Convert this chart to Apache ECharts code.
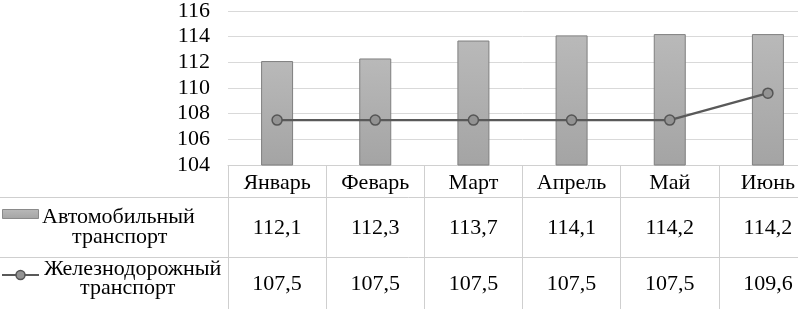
<!DOCTYPE html>
<html>
<head>
<meta charset="utf-8">
<script src="https://cdn.jsdelivr.net/npm/echarts@6/dist/echarts.min.js"></script>
</head>
<body style="margin:0;overflow:hidden">
<div id="c" style="width:817px;height:309px"></div>
<script>
var months = ['Январь', 'Феварь', 'Март', 'Апрель', 'Май', 'Июнь'];
var autoValues = [112.1, 112.3, 113.7, 114.1, 114.2, 114.2];
var railValues = [107.5, 107.5, 107.5, 107.5, 107.5, 109.6];
var autoName = ['Автомобильный', 'транспорт'];
var railName = ['Железнодорожный', 'транспорт'];
var yMin = 104, yMax = 116, yStep = 2;

function fmt(v) { return v.toFixed(1).replace('.', ','); }

var FONT = 'Liberation Serif';
var FS = 22;
var chart = echarts.init(document.getElementById('c'));

var barGrad = new echarts.graphic.LinearGradient(0, 0, 0, 1, [
  {offset: 0, color: '#b9b9b9'}, {offset: 1, color: '#a4a4a4'}
]);

var richT = {t: {fontFamily: FONT, fontSize: FS, color: '#000'}};
function richFmt(v) { return '{t|' + v + '}'; }

function valueAxis(data, margin) {
  return {
    type: 'category', gridIndex: 0, position: 'bottom', data: data.map(fmt),
    axisLine: {show: false}, axisTick: {show: false}, splitLine: {show: false},
    axisLabel: {interval: 0, margin: margin, color: '#000', fontFamily: FONT, fontSize: FS,
      formatter: richFmt, rich: richT}
  };
}

function txt(x, y, s) {
  return {type: 'text', x: x, y: y,
    style: {text: s, fontFamily: FONT, fontSize: FS, fill: '#000'}};
}

chart.setOption({
  animation: false,
  textStyle: {fontFamily: FONT, fontSize: FS},
  grid: {left: 228, right: 0, top: 6, bottom: 144},
  xAxis: [
    {
      type: 'category', data: months, boundaryGap: true,
      axisLine: {show: true, lineStyle: {color: '#d0d0d0', width: 1}},
      axisTick: {show: true, interval: 0, length: 144, lineStyle: {color: '#cfcfcf', width: 1}},
      axisLabel: {interval: 0, margin: 7, color: '#000', fontFamily: FONT, fontSize: FS,
        formatter: richFmt, rich: richT}
    },
    valueAxis(autoValues, 52),
    valueAxis(railValues, 108)
  ],
  yAxis: {
    type: 'value', min: yMin, max: yMax, interval: yStep,
    axisLine: {show: false}, axisTick: {show: false},
    splitLine: {lineStyle: {color: '#d9d9d9', width: 1}},
    axisLabel: {margin: 18, color: '#000', fontFamily: FONT, fontSize: FS,
      formatter: richFmt, rich: richT}
  },
  series: [
    {
      name: autoName.join(' '), type: 'bar', xAxisIndex: 0, data: autoValues, barWidth: 32,
      itemStyle: {color: barGrad, borderColor: '#7f7f7f', borderWidth: 1}
    },
    {
      name: railName.join(' '), type: 'line', xAxisIndex: 0, data: railValues,
      symbol: 'circle', symbolSize: 10,
      lineStyle: {color: '#595959', width: 2.2},
      itemStyle: {color: '#939393', borderColor: '#555555', borderWidth: 1.5}
    }
  ],
  graphic: [
    {type: 'line', shape: {x1: 0, y1: 197.5, x2: 817, y2: 197.5}, style: {stroke: '#cfcfcf', lineWidth: 1}},
    {type: 'line', shape: {x1: 0, y1: 257.5, x2: 817, y2: 257.5}, style: {stroke: '#cfcfcf', lineWidth: 1}},
    {type: 'rect', shape: {x: 2.5, y: 209.5, width: 36, height: 9}, style: {fill: barGrad, stroke: '#8a8a8a', lineWidth: 1}},
    {type: 'line', shape: {x1: 2, y1: 275, x2: 39, y2: 275}, style: {stroke: '#595959', lineWidth: 2}},
    {type: 'circle', shape: {cx: 20.5, cy: 275, r: 4.5}, style: {fill: '#939393', stroke: '#555555', lineWidth: 1.5}},
    txt(42, 206, autoName[0]),
    txt(72, 226, autoName[1]),
    txt(44, 258, railName[0]),
    txt(80, 277, railName[1])
  ]
});
</script>
</body>
</html>
